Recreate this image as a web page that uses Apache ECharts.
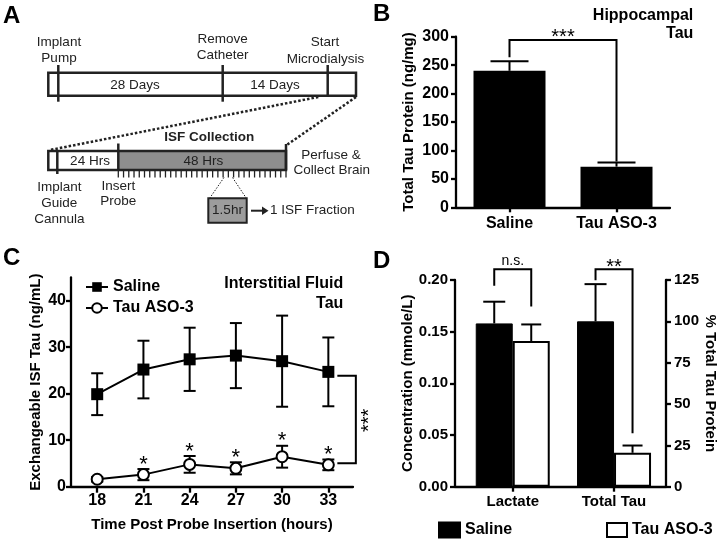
<!DOCTYPE html>
<html>
<head>
<meta charset="utf-8">
<script src="https://cdn.jsdelivr.net/npm/echarts@6/dist/echarts.min.js"></script>
<style>html,body{margin:0;padding:0;background:#fff}#main{width:720px;height:539px}</style>
</head>
<body>
<div id="main"></div>
<script>
// ---------- DATA ----------
// Panel B: hippocampal total tau (ng/mg)
const bCategories = ['Saline', 'Tau ASO-3'];
const bMeans = [240, 71.5];
const bErr = [17, 7.5];
// Panel C: ISF tau (ng/mL) over time
const cHours = [18, 21, 24, 27, 30, 33];
const cSalineMean = [19.9, 25.2, 27.4, 28.2, 27.0, 24.7];
const cSalineErr = [4.5, 6.2, 6.8, 7.0, 9.8, 7.4];
const cAsoMean = [1.6, 2.6, 4.8, 3.95, 6.45, 4.7];
const cAsoErr = [0.5, 1.2, 1.8, 1.3, 2.35, 1.15];
const cAsoSig = [0, 1, 1, 1, 1, 1];
const cYTicks = [0, 10, 20, 30, 40];
// Panel D: Lactate (mmole/L, left axis) and Total Tau (% , right axis)
const dCategories = ['Lactate', 'Total Tau'];
const dSalineMean = [0.158, 100];
const dSalineErr = [0.021, 22.5];
const dAsoMean = [0.141, 20.5];
const dAsoErr = [0.016, 4.4];

// ---------- STYLE ----------
const FONT = '"Liberation Sans", Arial, Helvetica, sans-serif';
const BLK = '#000';
const axisLineS = {show: true, onZero: false, lineStyle: {color: BLK, width: 2.3}};
const tickS = (extra) => Object.assign({show: true, length: 5, lineStyle: {color: BLK, width: 2.3}}, extra || {});
const labS = (extra) => Object.assign({color: BLK, fontFamily: FONT, fontWeight: 'bold', fontSize: 16}, extra || {});
const nameS = {color: BLK, fontFamily: FONT, fontWeight: 'bold', fontSize: 15};

function errRender(offsetPx, capHalf, twoSided, stars) {
  return function (params, api) {
    const x = api.value(0), y = api.value(1), e = api.value(2);
    const top = api.coord([x, y + e]);
    const bot = api.coord([x, twoSided ? y - e : y]);
    const cx = top[0] + offsetPx;
    const ls = {stroke: BLK, lineWidth: 2};
    const ch = [
      {type: 'line', shape: {x1: cx, y1: top[1], x2: cx, y2: bot[1]}, style: ls},
      {type: 'line', shape: {x1: cx - capHalf, y1: top[1], x2: cx + capHalf, y2: top[1]}, style: ls}
    ];
    if (twoSided) ch.push({type: 'line', shape: {x1: cx - capHalf, y1: bot[1], x2: cx + capHalf, y2: bot[1]}, style: ls});
    if (stars && api.value(3)) {
      ch.push({type: 'text', style: {text: '*', x: cx, y: top[1] - 4.5, fill: BLK,
        font: '22px ' + FONT, align: 'center', textAlign: 'center', verticalAlign: 'middle', textVerticalAlign: 'middle'}});
    }
    return {type: 'group', children: ch};
  };
}

const series = [];
// B
series.push({type: 'bar', name: 'Hippocampal Tau', xAxisIndex: 0, yAxisIndex: 0, data: bMeans, barWidth: 72,
  itemStyle: {color: BLK}, z: 2});
series.push({type: 'custom', xAxisIndex: 0, yAxisIndex: 0, z: 3,
  data: bMeans.map((m, i) => [i, m, bErr[i]]), renderItem: errRender(0, 19, false, false)});
// C
series.push({type: 'custom', xAxisIndex: 1, yAxisIndex: 1, z: 1,
  data: cHours.map((h, i) => [h, cSalineMean[i], cSalineErr[i]]), renderItem: errRender(0, 6, true, false)});
series.push({type: 'custom', xAxisIndex: 1, yAxisIndex: 1, z: 1,
  data: cHours.map((h, i) => [h, cAsoMean[i], cAsoErr[i], cAsoSig[i]]), renderItem: errRender(0, 6, true, true)});
series.push({type: 'line', name: 'Saline', xAxisIndex: 1, yAxisIndex: 1, z: 3,
  data: cHours.map((h, i) => [h, cSalineMean[i]]), symbol: 'rect', symbolSize: 12, showAllSymbol: true,
  itemStyle: {color: BLK}, lineStyle: {color: BLK, width: 2}});
series.push({type: 'line', name: 'Tau ASO-3', xAxisIndex: 1, yAxisIndex: 1, z: 3,
  data: cHours.map((h, i) => [h, cAsoMean[i]]), symbol: 'circle', symbolSize: 11, showAllSymbol: true,
  itemStyle: {color: '#fff', borderColor: BLK, borderWidth: 2}, lineStyle: {color: BLK, width: 2}});
// D
dCategories.forEach((c, i) => {
  const xi = 2 + i, yi = 2 + i;
  series.push({type: 'bar', name: i === 0 ? 'Saline ' : 'Saline (' + c + ')', xAxisIndex: xi, yAxisIndex: yi,
    data: [[i, dSalineMean[i]]], barWidth: 37, barGap: '0%', z: 2,
    itemStyle: {color: BLK, borderColor: BLK, borderWidth: 1}});
  series.push({type: 'bar', name: i === 0 ? 'Tau ASO-3 ' : 'Tau ASO-3 (' + c + ')', xAxisIndex: xi, yAxisIndex: yi,
    data: [[i, dAsoMean[i]]], barWidth: 37, barGap: '0%', z: 2,
    itemStyle: {color: '#fff', borderColor: BLK, borderWidth: 2}});
  series.push({type: 'custom', xAxisIndex: xi, yAxisIndex: yi, z: 3,
    data: [[i, dSalineMean[i], dSalineErr[i]]], renderItem: errRender(-18.5, 11, false, false)});
  series.push({type: 'custom', xAxisIndex: xi, yAxisIndex: yi, z: 3,
    data: [[i, dAsoMean[i], dAsoErr[i]]], renderItem: errRender(18.5, 10, false, false)});
});

const option = {
  animation: false,
  backgroundColor: '#fff',
  textStyle: {fontFamily: FONT},
  grid: [
    {left: 456, top: 36.7, width: 214, height: 170.6, outerBoundsMode: 'none'},
    {left: 71, top: 277.5, width: 282, height: 209.2, outerBoundsMode: 'none'},
    {left: 455, top: 280, width: 211, height: 206.7, outerBoundsMode: 'none'}
  ],
  legend: [
    {left: 80, top: 274, padding: 5, orient: 'vertical', itemWidth: 22, itemHeight: 12, itemGap: 5,
      data: ['Saline', 'Tau ASO-3'], textStyle: labS({fontSize: 16}), selectedMode: false},
    {left: 433, top: 516.5, padding: 5, orient: 'horizontal', itemWidth: 21, itemHeight: 15, icon: 'rect', width: 200,
      data: ['Saline '], textStyle: labS({fontSize: 16}), selectedMode: false},
    {left: 601, top: 517, padding: 5, orient: 'horizontal', itemWidth: 20, itemHeight: 14, icon: 'rect', width: 120,
      data: ['Tau ASO-3 '], textStyle: labS({fontSize: 16}), selectedMode: false}
  ],
  xAxis: [
    {gridIndex: 0, type: 'category', data: bCategories, axisLine: axisLineS,
      axisTick: tickS({alignWithLabel: true}), axisLabel: labS({margin: 8}), splitLine: {show: false}},
    {gridIndex: 1, type: 'value', min: 16.3, max: 34.6, axisLine: axisLineS,
      axisTick: tickS({customValues: cHours, length: 6}), axisLabel: labS({customValues: cHours, margin: 6}),
      splitLine: {show: false},
      name: 'Time Post Probe Insertion (hours)', nameLocation: 'middle', nameGap: 31, nameTextStyle: nameS},
    {gridIndex: 2, type: 'value', min: -0.57, max: 1.513, axisLine: axisLineS,
      axisTick: tickS({customValues: [0, 1]}),
      axisLabel: labS({customValues: [0, 1], fontSize: 15, margin: 8, formatter: v => dCategories[Math.round(v)]}),
      splitLine: {show: false}},
    {gridIndex: 2, type: 'value', min: -0.57, max: 1.513, show: false, splitLine: {show: false}}
  ],
  yAxis: [
    {gridIndex: 0, type: 'value', min: 0, max: 300, interval: 50, axisLine: axisLineS, axisTick: tickS(),
      axisLabel: labS({margin: 7}), splitLine: {show: false},
      name: 'Total Tau Protein (ng/mg)', nameLocation: 'middle', nameGap: 40, nameTextStyle: nameS},
    {gridIndex: 1, type: 'value', min: 0, max: 45, axisLine: axisLineS,
      axisTick: tickS({customValues: cYTicks}), axisLabel: labS({customValues: cYTicks, margin: 5}),
      splitLine: {show: false},
      name: 'Exchangeable ISF Tau (ng/mL)', nameLocation: 'middle', nameGap: 28, nameTextStyle: nameS},
    {gridIndex: 2, type: 'value', position: 'left', min: 0, max: 0.2, interval: 0.05, axisLine: axisLineS,
      axisTick: tickS(), axisLabel: labS({fontSize: 15, margin: 7, formatter: v => v.toFixed(2)}),
      splitLine: {show: false},
      name: 'Concentration (mmole/L)', nameLocation: 'middle', nameGap: 40, nameTextStyle: nameS},
    {gridIndex: 2, type: 'value', position: 'right', min: 0, max: 125, interval: 25, axisLine: axisLineS,
      axisTick: tickS(), axisLabel: labS({fontSize: 15, margin: 8}), splitLine: {show: false},
      name: '% Total Tau Protein', nameLocation: 'middle', nameGap: 36, nameRotate: -90, nameTextStyle: nameS}
  ],
  series: series
};

const chart = echarts.init(document.getElementById('main'), null, {renderer: 'canvas'});
chart.setOption(option);

// ---------- GRAPHIC HELPERS ----------
const INK = '#222';
function T(text, x, y, o) {
  o = o || {};
  const st = {text: text, x: x, y: y, fill: o.fill || INK,
    font: (o.weight || 'normal') + ' ' + (o.size || 13.5) + 'px ' + FONT,
    align: o.align || 'center', textAlign: o.align || 'center',
    verticalAlign: 'middle', textVerticalAlign: 'middle'};
  const el = {type: 'text', style: st, z: 100};
  if (o.rotation) { el.rotation = o.rotation; el.x = x; el.y = y; st.x = 0; st.y = 0; }
  return el;
}
function L(x1, y1, x2, y2, o) {
  o = o || {};
  return {type: 'line', shape: {x1: x1, y1: y1, x2: x2, y2: y2}, z: 100,
    style: {stroke: o.stroke || INK, lineWidth: o.w || 2.5, lineDash: o.dash || null}};
}
function R(x, y, w, h, o) {
  o = o || {};
  return {type: 'rect', shape: {x: x, y: y, width: w, height: h}, z: 99,
    style: {fill: o.fill || 'none', stroke: o.stroke || null, lineWidth: o.w || 0}};
}
function P(points, o) {
  o = o || {};
  return {type: 'polyline', shape: {points: points}, z: 100,
    style: {stroke: o.stroke || BLK, lineWidth: o.w || 2, fill: null}};
}

const g = [];
// Panel letters
g.push(T('A', 3, 16, {size: 24, weight: 'bold', align: 'left', fill: BLK}));
g.push(T('B', 373, 14, {size: 24, weight: 'bold', align: 'left', fill: BLK}));
g.push(T('C', 3, 258, {size: 24, weight: 'bold', align: 'left', fill: BLK}));
g.push(T('D', 373, 261, {size: 24, weight: 'bold', align: 'left', fill: BLK}));

// Panel A schematic
g.push(R(48.3, 72.7, 307.7, 23, {fill: '#fff', stroke: INK, w: 2.5}));
g.push(L(58.3, 65, 58.3, 101.7));
g.push(L(222.7, 65, 222.7, 101.7));
g.push(L(327.7, 65, 327.7, 95.7));
g.push(T('Implant', 59, 42.7)); g.push(T('Pump', 59, 58.3));
g.push(T('Remove', 222.7, 39.3)); g.push(T('Catheter', 222.7, 55));
g.push(T('Start', 325, 42.7)); g.push(T('Microdialysis', 325.5, 59.3));
g.push(T('28 Days', 135, 85)); g.push(T('14 Days', 275, 85));
g.push(L(318.3, 97, 50, 150, {dash: [2.5, 2]}));
g.push(L(356, 97, 286.7, 145, {dash: [2.5, 2]}));
g.push(R(48.3, 151, 70, 19, {fill: '#fff'}));
g.push(R(118.3, 151, 167.7, 19, {fill: '#8e8e8e'}));
g.push(R(48.3, 151, 237.7, 19, {stroke: INK, w: 2.5}));
g.push(L(57.3, 151, 57.3, 174));
g.push(L(118.3, 143.5, 118.3, 170));
g.push(L(286, 144, 286, 170));
for (let i = 0; i <= 32; i++) {
  const x = 118.3 + i * (167.7 / 32);
  g.push(L(x, 170, x, 177.5, {w: 1.3}));
}
g.push(T('ISF Collection', 209.3, 137.3, {weight: 'bold'}));
g.push(T('24 Hrs', 90, 161)); g.push(T('48 Hrs', 203.3, 161));
g.push(T('Perfuse &', 331, 155)); g.push(T('Collect Brain', 331.7, 170));
g.push(T('Implant', 59.3, 187.3)); g.push(T('Guide', 59.3, 203.3)); g.push(T('Cannula', 59.3, 219));
g.push(T('Insert', 118.3, 186)); g.push(T('Probe', 118.3, 201.7));
g.push(L(224, 177.5, 209.5, 198.5, {w: 1, dash: [1.5, 1.5]}));
g.push(L(232.5, 177.5, 246.5, 198.5, {w: 1, dash: [1.5, 1.5]}));
g.push(R(208.3, 198.3, 38.4, 24.4, {fill: '#9c9c9c', stroke: INK, w: 2}));
g.push(T('1.5hr', 227.5, 210.7));
g.push(L(251, 210.7, 262.5, 210.7, {w: 2}));
g.push({type: 'polygon', shape: {points: [[262, 206.5], [268.5, 210.7], [262, 214.9]]}, z: 100, style: {fill: INK}});
g.push(T('1 ISF Fraction', 270, 210.7, {align: 'left'}));

// Titles
g.push(T('Hippocampal', 693.3, 16, {size: 16, weight: 'bold', align: 'right', fill: BLK}));
g.push(T('Tau', 693.3, 34, {size: 16, weight: 'bold', align: 'right', fill: BLK}));
g.push(T('Interstitial Fluid', 343.3, 283.3, {size: 16, weight: 'bold', align: 'right', fill: BLK}));
g.push(T('Tau', 343.3, 303.3, {size: 16, weight: 'bold', align: 'right', fill: BLK}));

// Significance annotations positioned through the axes
const toPx = (xi, yi, pt) => chart.convertToPixel({xAxisIndex: xi, yAxisIndex: yi}, pt);
// B
const b0 = toPx(0, 0, [bCategories[0], bMeans[0] + bErr[0]]);
const b1 = toPx(0, 0, [bCategories[1], bMeans[1] + bErr[1]]);
const bTop = toPx(0, 0, [bCategories[0], 300])[1] + 3.3;
g.push(P([[b0[0], b0[1] - 4], [b0[0], bTop], [b1[0], bTop], [b1[0], b1[1] - 1]]));
g.push(T('***', (b0[0] + b1[0]) / 2, bTop - 2.2, {size: 20, fill: BLK}));
// C
const cs = toPx(1, 1, [cHours[5], cSalineMean[5]]);
const ca = toPx(1, 1, [cHours[5], cAsoMean[5]]);
const cx1 = cs[0] + 9, cx2 = cs[0] + 27.5;
g.push(P([[cx1, cs[1] + 4], [cx2, cs[1] + 4], [cx2, ca[1] - 1.5], [cx1, ca[1] - 1.5]]));
g.push(T('***', cx2 + 14, (cs[1] + ca[1]) / 2 + 2, {size: 20, fill: BLK, rotation: Math.PI / 2}));
// D
const dl0 = toPx(2, 2, [0, dSalineMean[0] + dSalineErr[0]]);
const dl1 = toPx(2, 2, [0, dAsoMean[0] + dAsoErr[0]]);
const dt0 = toPx(3, 3, [1, dSalineMean[1] + dSalineErr[1]]);
const dt1 = toPx(3, 3, [1, dAsoMean[1] + dAsoErr[1]]);
const dTop = toPx(2, 2, [0, 0.2])[1] - 10.7;
g.push(P([[dl0[0] - 18.5, dl0[1] - 16], [dl0[0] - 18.5, dTop], [dl1[0] + 18.5, dTop], [dl1[0] + 18.5, dl1[1] - 18]]));
g.push(T('n.s.', dl0[0], dTop - 8.5, {size: 14, fill: BLK}));
g.push(P([[dt0[0] - 18.5, dt0[1] - 4], [dt0[0] - 18.5, dTop], [dt1[0] + 18.5, dTop], [dt1[0] + 18.5, dt1[1] - 12.4]]));
g.push(T('**', dt0[0], dTop - 2.3, {size: 20, fill: BLK}));

chart.setOption({graphic: {elements: g}});
</script>
</body>
</html>
